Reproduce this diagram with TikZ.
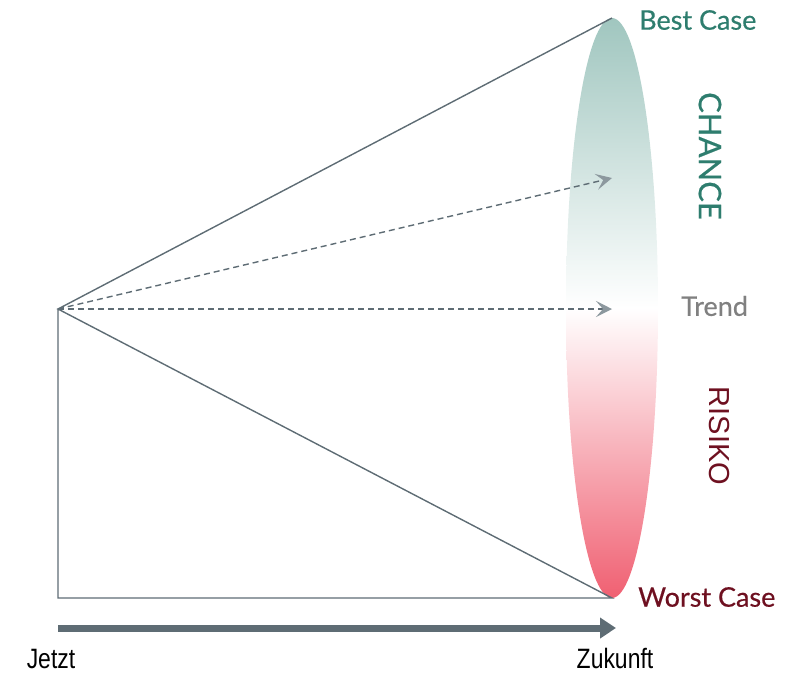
\documentclass[tikz,border=0pt]{standalone}
\usepackage{fontspec}
\setmainfont[FakeBold=0.5]{Lato}
\newfontfamily\arialfont{Liberation Sans}
\newfontfamily\narrowfont[FakeStretch=0.82]{Liberation Sans}
\usetikzlibrary{arrows.meta}
\definecolor{slate}{RGB}{94,108,116}
\definecolor{tipgray}{RGB}{140,152,158}
\definecolor{teal}{RGB}{46,125,110}
\definecolor{darkred}{RGB}{110,16,32}
\definecolor{trendgray}{RGB}{128,128,128}
\definecolor{topteal}{RGB}{160,198,191}
\definecolor{botred}{RGB}{240,96,114}
\begin{document}
\begin{tikzpicture}[x=1pt,y=-1pt,
  cone/.style={draw=slate,line width=1.4pt},
  dasharrow/.style={draw=slate,line width=1.4pt,dash pattern=on 6pt off 4pt,-{Stealth[length=16pt,width=16pt,inset=7pt,color=tipgray]}},
  lbl/.style={inner sep=0pt,font=\fontsize{27}{29}\selectfont}]
\useasboundingbox (0,0) rectangle (789,673);
\coordinate (O) at (58,309);
\coordinate (B) at (612,18);
\coordinate (W) at (612,598);
\coordinate (L) at (58,598);
\coordinate (C) at (612,178);
\coordinate (T) at (612,309);
\begin{scope}
\clip (612,308) ellipse [x radius=46, y radius=290];
\shade[top color=topteal,bottom color=botred,middle color=white] (560,18) rectangle (664,598);
\end{scope}
\draw[cone] (B) -- (O) -- (W) -- (L) -- (O);
\draw[dasharrow] (O) -- (C);
\draw[dasharrow] (O) -- (T);
\coordinate (A1) at (58,628);
\coordinate (A2) at (616,628);
\draw[slate,line width=7pt,-{Triangle[length=16pt,width=20pt]}] (A1) -- (A2);
\node[lbl,text=teal,anchor=west] (best) at (639,20) {Best Case};
\node[lbl,text=darkred,anchor=west] (worst) at (638,597) {Worst Case};
\node[lbl,text=trendgray,anchor=west] (trend) at (681,306) {Trend};
\node[inner sep=0pt,text=teal,rotate=-90,font=\fontsize{31}{32}\selectfont] (chance) at (710,156) {CHANCE};
\node[inner sep=0pt,text=darkred,rotate=-90,font=\arialfont\fontsize{29}{30}\selectfont] (risiko) at (719,436) {RISIKO};
\node[inner sep=0pt,anchor=base,font=\narrowfont\fontsize{28}{29}\selectfont] (jetzt) at (51,668) {Jetzt};
\node[inner sep=0pt,anchor=base,font=\narrowfont\fontsize{28}{29}\selectfont] (zukunft) at (615,668) {Zukunft};
\end{tikzpicture}
\end{document}
